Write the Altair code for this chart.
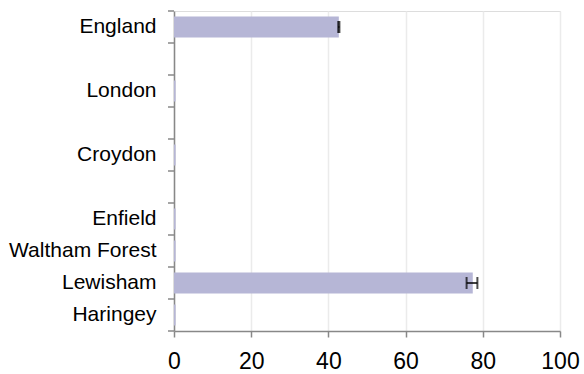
import altair as alt
import pandas as pd

categories = ["England", "gap1", "London", "gap2", "Croydon", "gap3",
              "Enfield", "Waltham Forest", "Lewisham", "Haringey"]
values = [42.7, 0, 0.4, 0, 0.4, 0, 0.4, 0.4, 77.4, 0.4]
has_bar = [1, 0, 1, 0, 1, 0, 1, 1, 1, 1]
err_low = [42.55, 0, 0, 0, 0, 0, 0, 0, 75.8, 0]
err_high = [42.85, 0, 0, 0, 0, 0, 0, 0, 78.6, 0]
has_err = [1, 0, 0, 0, 0, 0, 0, 0, 1, 0]
x_ticks = [0, 20, 40, 60, 80, 100]

df = pd.DataFrame({"area": categories, "value": values, "hasbar": has_bar,
                   "lo": err_low, "hi": err_high, "haserr": has_err,
                   "last": [0] * 9 + [1]})

x_scale = alt.Scale(domain=[0, 100], nice=False)
y_scale = alt.Scale(domain=categories, paddingInner=0, paddingOuter=0)

base = alt.Chart(df)

bars = base.mark_bar(color="#b6b6d6", height={"band": 0.65}).encode(
    x=alt.X("value:Q", scale=x_scale, title=None,
            axis=alt.Axis(values=x_ticks, gridColor="#ebebeb", gridWidth=1.5, labelFlush=False)),
    y=alt.Y("area:N", sort=categories, scale=y_scale, title=None,
            axis=alt.Axis(ticks=False, grid=False,
                          labelExpr="indexof(datum.value, 'gap') == 0 ? '' : datum.value")),
).transform_filter("datum.hasbar == 1")

yticks = base.mark_rule(color="#888888", strokeWidth=1.5).encode(
    y=alt.Y("area:N", sort=categories, scale=y_scale, title=None, bandPosition=0),
    x=alt.value(-6), x2=alt.value(0),
)
yticks_end = base.mark_rule(color="#888888", strokeWidth=1.5).encode(
    y=alt.Y("area:N", sort=categories, scale=y_scale, title=None, bandPosition=1),
    x=alt.value(-6), x2=alt.value(0),
).transform_filter("datum.last == 1")

err_line = base.mark_rule(color="#000000", strokeWidth=1.5).encode(
    x=alt.X("lo:Q", scale=x_scale, title=None), x2="hi:Q",
    y=alt.Y("area:N", sort=categories, scale=y_scale, title=None)
).transform_filter("datum.haserr == 1")
cap_lo = base.mark_tick(color="#000000", thickness=2, size=12).encode(
    x=alt.X("lo:Q", scale=x_scale, title=None),
    y=alt.Y("area:N", sort=categories, scale=y_scale, title=None)
).transform_filter("datum.haserr == 1")
cap_hi = base.mark_tick(color="#000000", thickness=2, size=12).encode(
    x=alt.X("hi:Q", scale=x_scale, title=None),
    y=alt.Y("area:N", sort=categories, scale=y_scale, title=None)
).transform_filter("datum.haserr == 1")

chart = alt.layer(bars, yticks, yticks_end, err_line, cap_lo, cap_hi).properties(
    width=386, height=320,
    autosize=alt.AutoSizeParams(type="none"),
    padding={"left": 174, "top": 11, "right": 24, "bottom": 43},
).configure_view(stroke=None).configure(background="white").configure_axis(
    labelFont="Liberation Sans", labelColor="#000000", tickColor="#888888",
    domainColor="#888888", domainWidth=1.5, tickWidth=1.5, tickSize=6,
).configure_axisX(
    labelFontSize=23, labelPadding=13, grid=True,
).configure_axisY(
    labelFontSize=21, labelPadding=18, labelLimit=300, grid=False,
)

chart.save("out.html", embed_options={"renderer": "svg", "actions": False})
